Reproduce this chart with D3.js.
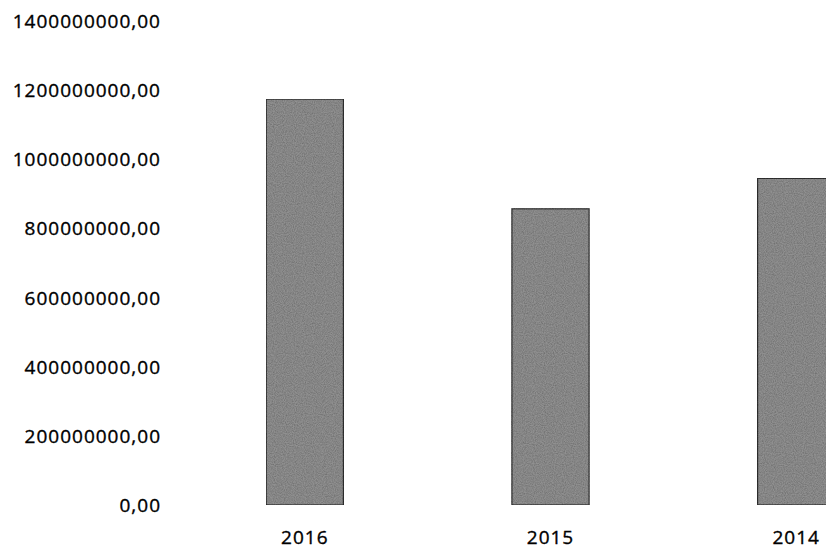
<!DOCTYPE html>
<html>
<head>
<meta charset="utf-8">
<script src="https://cdn.jsdelivr.net/npm/d3@7/dist/d3.min.js"></script>
<style>
  html, body { margin: 0; padding: 0; background: #fff; overflow: hidden; }
  svg text { font-family: "Open Sans", "DejaVu Sans", sans-serif; font-size: 19px; fill: #000; stroke: #000; stroke-width: 0.35px; letter-spacing: 1px; }
</style>
</head>
<body>
<svg id="chart" width="826" height="552"></svg>
<script>
const categories = ["2016", "2015", "2014"];
const values = [1173000000, 856000000, 944000000];
const yTicks = [0, 200000000, 400000000, 600000000, 800000000, 1000000000, 1200000000, 1400000000];

const svg = d3.select("#chart");

const defs = svg.append("defs");
const filt = defs.append("filter").attr("id", "grain").attr("x", 0).attr("y", 0).attr("width", 1).attr("height", 1);
filt.append("feTurbulence").attr("type", "fractalNoise").attr("baseFrequency", "0.9").attr("numOctaves", 2).attr("seed", 3).attr("result", "noise");
filt.append("feColorMatrix").attr("in", "noise").attr("type", "matrix")
  .attr("values", "0 0 0 0 0  0 0 0 0 0  0 0 0 0 0  0 0 0 0.7 -0.2").attr("result", "dark");
filt.append("feComposite").attr("in", "dark").attr("in2", "SourceGraphic").attr("operator", "in").attr("result", "darkIn");
filt.append("feMerge").call(m => { m.append("feMergeNode").attr("in", "SourceGraphic"); m.append("feMergeNode").attr("in", "darkIn"); });

const x = d3.scaleBand().domain(categories).range([182, 919]).paddingInner(0.686).paddingOuter(0.343);
const y = d3.scaleLinear().domain([0, 1400000000]).range([505, 20.6]);

const fmt = v => (v.toFixed(2)).replace(".", ",");

// y axis (labels only)
const yAxis = d3.axisLeft(y).tickValues(yTicks).tickFormat(fmt).tickSize(0).tickPadding(0);
const gy = svg.append("g").attr("transform", "translate(161,0)").call(yAxis);
gy.select(".domain").remove();
gy.selectAll("text").attr("font-size", null).attr("font-family", null).attr("fill", null).attr("dy", "0.35em");

// bars
svg.append("g").selectAll("rect").data(categories).join("rect")
  .attr("x", d => x(d))
  .attr("y", (d, i) => y(values[i]))
  .attr("width", x.bandwidth())
  .attr("height", (d, i) => y(0) - y(values[i]))
  .attr("fill", "#909090")
  .attr("stroke", "#333")
  .attr("stroke-width", 1.2)
  .attr("filter", "url(#grain)");

// x axis (labels only)
const xAxis = d3.axisBottom(x).tickSize(0).tickPadding(0);
const gx = svg.append("g").attr("transform", "translate(0,537)").call(xAxis);
gx.select(".domain").remove();
gx.selectAll("text").attr("font-size", null).attr("font-family", null).attr("fill", null).attr("dy", "0.35em");
</script>
</body>
</html>
